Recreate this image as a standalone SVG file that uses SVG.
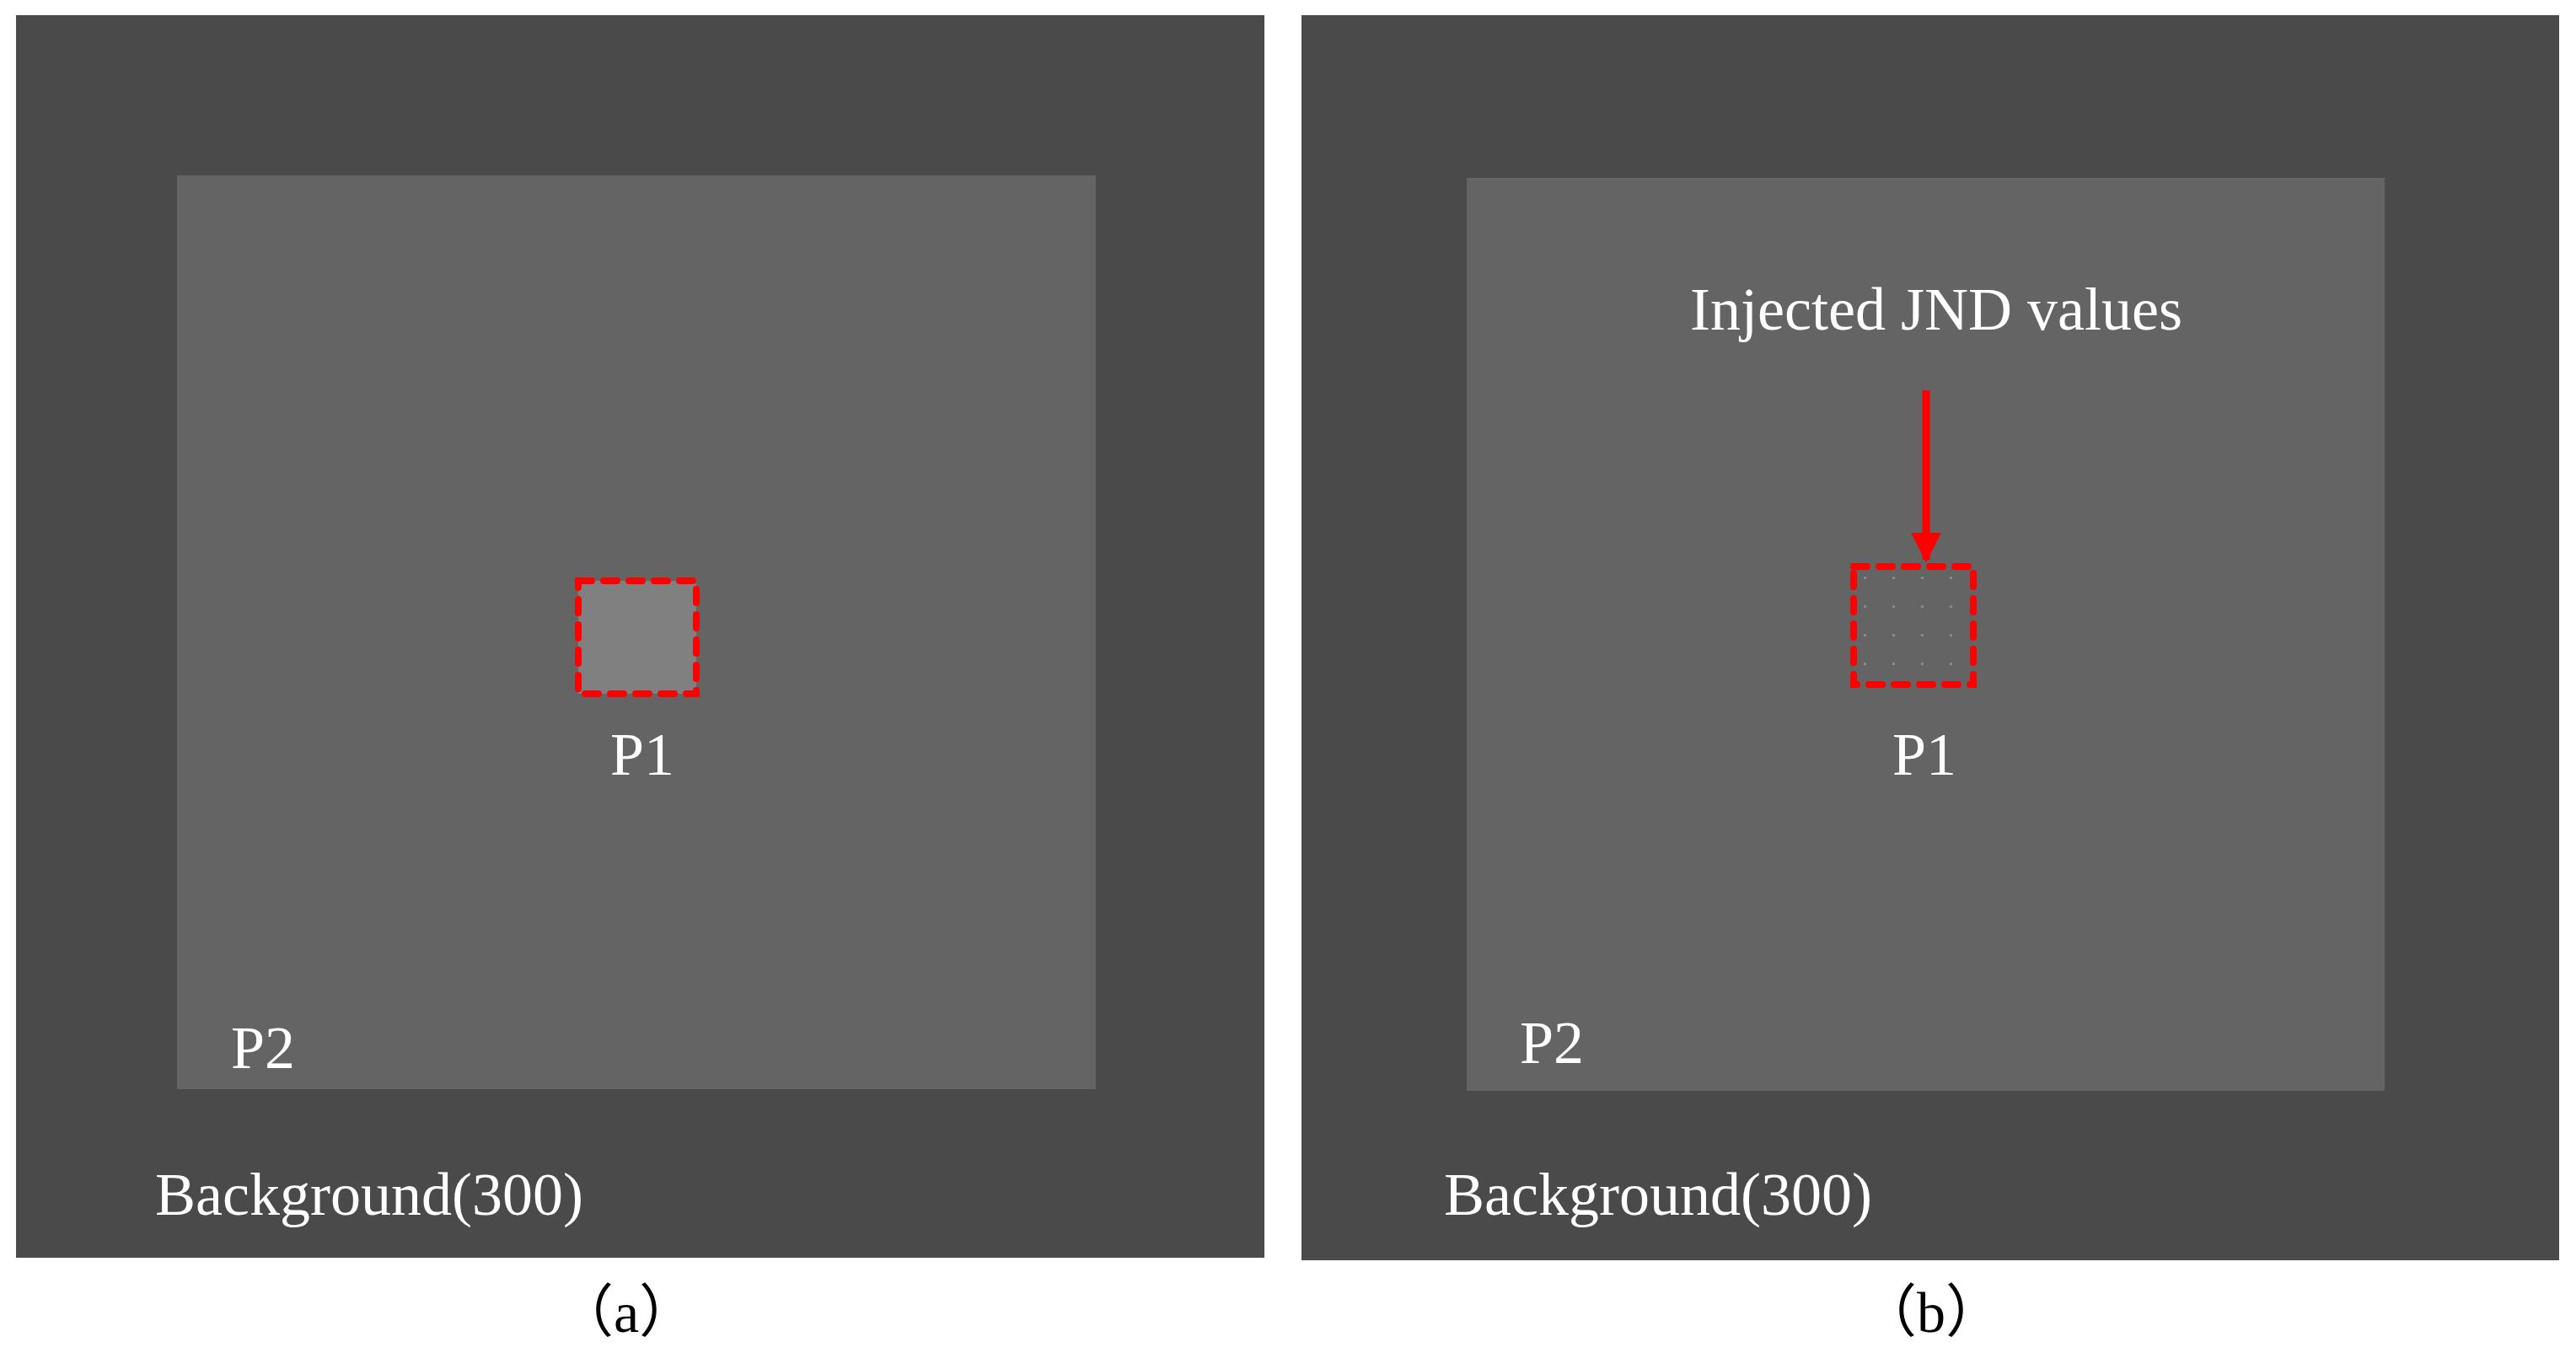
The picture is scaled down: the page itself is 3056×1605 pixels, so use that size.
<svg xmlns="http://www.w3.org/2000/svg" width="3056" height="1605" viewBox="0 0 3056 1605">
<style>
.bg{fill:#4a4a4a}.in{fill:#646464}
.t{font-family:"Liberation Serif","Noto Sans CJK SC",serif;font-size:72px;fill:#fff}
.c{font-family:"Liberation Serif","Noto Sans CJK SC",serif;font-size:68px;fill:#000;text-anchor:middle}
.box{fill:none;stroke:#ff0000;stroke-width:8;stroke-dasharray:16 14;stroke-linecap:round}
</style>
<defs>
<pattern id="dots" x="2197" y="670" width="34" height="34" patternUnits="userSpaceOnUse">
<rect x="14" y="14" width="3" height="3" fill="#8a8a8a"/>
</pattern>
<marker id="ah" viewBox="0 0 10 10" refX="9" refY="5" markerWidth="4" markerHeight="4.5" orient="auto" markerUnits="strokeWidth">
<path d="M0,0 L10,5 L0,10 z" fill="#ff0000"/>
</marker>
</defs>
<rect width="3056" height="1605" fill="#fff"/>
<g id="panel-a">
<rect class="bg" x="19" y="18" width="1481" height="1474"/>
<rect class="in" x="210" y="208" width="1090" height="1084"/>
<rect x="686" y="689" width="140" height="134" fill="#808080"/>
<rect class="box" x="686" y="689" width="140" height="134"/>
<text class="t" x="762" y="919" text-anchor="middle">P1</text>
<text class="t" x="274" y="1267">P2</text>
<text class="t" x="184" y="1441">Background(300)</text>
<text class="c" x="743" y="1580">（a）</text>
</g>
<g id="panel-b">
<rect class="bg" x="1544" y="18" width="1492" height="1477"/>
<rect class="in" x="1740" y="211" width="1089" height="1083"/>
<rect x="2199" y="672" width="142" height="140" fill="url(#dots)"/>
<rect class="box" x="2199" y="672" width="142" height="140"/>
<text class="t" x="2297" y="391" text-anchor="middle">Injected JND values</text>
<text class="t" x="2283" y="919" text-anchor="middle">P1</text>
<text class="t" x="1803" y="1261">P2</text>
<text class="t" x="1713" y="1441">Background(300)</text>
<text class="c" x="2291" y="1580">（b）</text>
</g>
<g id="connectors">
<line x1="2285" y1="463" x2="2285" y2="664" stroke="#ff0000" stroke-width="9" marker-end="url(#ah)"/>
</g>
</svg>
